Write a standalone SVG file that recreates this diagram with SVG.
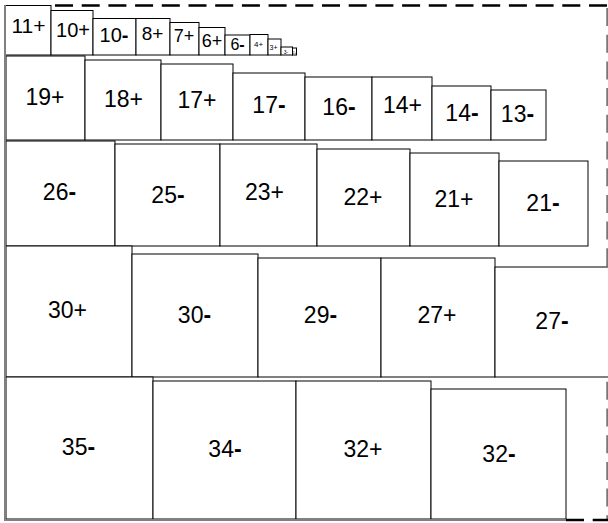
<svg xmlns="http://www.w3.org/2000/svg" width="608" height="523" viewBox="0 0 608 523">
<style>
  rect.b { fill: #fff; stroke: #000; stroke-width: 1; }
  text { font-family: "Liberation Sans", Arial, sans-serif; fill: #000; text-anchor: middle; }
  .L { font-size: 23px; }
  .m { font-weight: bold; }
  .frame-d { fill: none; stroke: #000; stroke-width: 2.5; stroke-dasharray: 18 8.7; }
  .frame-r { fill: none; stroke: #777; stroke-width: 2.5; stroke-dasharray: 18 8.7; }
  .frame-s { fill: none; stroke: #808080; stroke-width: 2; }
</style>
<rect width="608" height="523" fill="#fff"/>
<g id="frame">
  <path class="frame-d" d="M55 5.5 H608"/>
  <path class="frame-r" d="M607.5 8 V520"/>
  <path class="frame-d" d="M566 520 H608"/>
</g>

<g id="row1">
  <g id="n11p"><rect class="b" x="5.5" y="5.5" width="45.5" height="49.5"/><text x="28.5" y="33" font-size="21">11+</text></g>
  <g id="n10p"><rect class="b" x="51" y="10.5" width="42" height="44.5"/><text x="73" y="37" font-size="20">10+</text></g>
  <g id="n10m"><rect class="b" x="93" y="18.5" width="43" height="36.5"/><text x="114" y="41.5" font-size="20">10<tspan class="m">-</tspan></text></g>
  <g id="n8p"><rect class="b" x="136" y="18.5" width="34" height="36.5"/><text x="152.5" y="39.5" font-size="19">8+</text></g>
  <g id="n7p"><rect class="b" x="170" y="22.5" width="29" height="32.5"/><text x="184" y="42" font-size="18">7+</text></g>
  <g id="n6p"><rect class="b" x="199" y="27.5" width="26" height="27.5"/><text x="212" y="46.5" font-size="18">6+</text></g>
  <g id="n6m"><rect class="b" x="225" y="35" width="25" height="20"/><text x="237.5" y="50" font-size="16">6<tspan class="m">-</tspan></text></g>
  <g id="n4p"><rect class="b" x="250" y="34.5" width="18" height="20.5"/><text x="258.5" y="47" font-size="8">4+</text></g>
  <g id="n3p"><rect class="b" x="268" y="39" width="13" height="16"/><text x="273.5" y="49.5" font-size="7">3+</text></g>
  <g id="n3m"><rect class="b" x="281" y="47" width="11.5" height="8"/><text x="286" y="54" font-size="5">3-</text></g>
  <g id="n2p"><rect class="b" x="292.5" y="48" width="4" height="7"/><text x="294.5" y="54" font-size="3">2+</text></g>
</g>

<g id="row2">
  <g id="n19p"><rect class="b" x="6" y="56" width="79" height="84"/><text class="L" x="45" y="105">19+</text></g>
  <g id="n18p"><rect class="b" x="85" y="60" width="76" height="80"/><text class="L" x="123.5" y="107">18+</text></g>
  <g id="n17p"><rect class="b" x="161" y="64" width="72" height="76"/><text class="L" x="197" y="108">17+</text></g>
  <g id="n17m"><rect class="b" x="233" y="73" width="72" height="67"/><text class="L" x="269" y="113">17<tspan class="m">-</tspan></text></g>
  <g id="n16m"><rect class="b" x="305" y="77" width="67" height="63"/><text class="L" x="339" y="115">16<tspan class="m">-</tspan></text></g>
  <g id="n14p"><rect class="b" x="372" y="77" width="60" height="63"/><text class="L" x="402.5" y="113">14+</text></g>
  <g id="n14m"><rect class="b" x="432" y="86" width="59" height="54"/><text class="L" x="462" y="121">14<tspan class="m">-</tspan></text></g>
  <g id="n13m"><rect class="b" x="491" y="90" width="55" height="50"/><text class="L" x="517.5" y="122">13<tspan class="m">-</tspan></text></g>
</g>

<g id="row3">
  <g id="n26m"><rect class="b" x="6" y="141" width="109" height="105"/><text class="L" x="59.5" y="200">26<tspan class="m">-</tspan></text></g>
  <g id="n25m"><rect class="b" x="115" y="144" width="105" height="102"/><text class="L" x="168" y="203">25<tspan class="m">-</tspan></text></g>
  <g id="n23p"><rect class="b" x="220" y="144" width="97" height="102"/><text class="L" x="264.5" y="200">23+</text></g>
  <g id="n22p"><rect class="b" x="317" y="149" width="93" height="97"/><text class="L" x="363" y="205">22+</text></g>
  <g id="n21p"><rect class="b" x="410" y="153" width="89" height="93"/><text class="L" x="454" y="207">21+</text></g>
  <g id="n21m"><rect class="b" x="499" y="161" width="89" height="85"/><text class="L" x="543" y="211">21<tspan class="m">-</tspan></text></g>
</g>

<g id="row4">
  <g id="n30p"><rect class="b" x="6" y="246" width="126" height="131"/><text class="L" x="67.5" y="318">30+</text></g>
  <g id="n30m"><rect class="b" x="132" y="254" width="126" height="123"/><text class="L" x="194.5" y="323">30<tspan class="m">-</tspan></text></g>
  <g id="n29m"><rect class="b" x="258" y="258" width="123" height="119"/><text class="L" x="320.5" y="323">29<tspan class="m">-</tspan></text></g>
  <g id="n27p"><rect class="b" x="381" y="258" width="114" height="119"/><text class="L" x="437" y="323">27+</text></g>
  <g id="n27m"><rect class="b" x="495" y="267" width="115" height="110"/><text class="L" x="552" y="329">27<tspan class="m">-</tspan></text></g>
</g>

<g id="row5">
  <g id="n35m"><rect class="b" x="6" y="377" width="147" height="142"/><text class="L" x="78.5" y="455">35<tspan class="m">-</tspan></text></g>
  <g id="n34m"><rect class="b" x="153" y="381" width="143" height="138"/><text class="L" x="225" y="457">34<tspan class="m">-</tspan></text></g>
  <g id="n32p"><rect class="b" x="296" y="381" width="135" height="138"/><text class="L" x="363" y="457">32+</text></g>
  <g id="n32m"><rect class="b" x="431" y="389" width="135" height="130"/><text class="L" x="499" y="462">32<tspan class="m">-</tspan></text></g>
</g>

<g id="frame-solid">
  <path class="frame-s" d="M5 5 V520 H566"/>
</g>
</svg>
